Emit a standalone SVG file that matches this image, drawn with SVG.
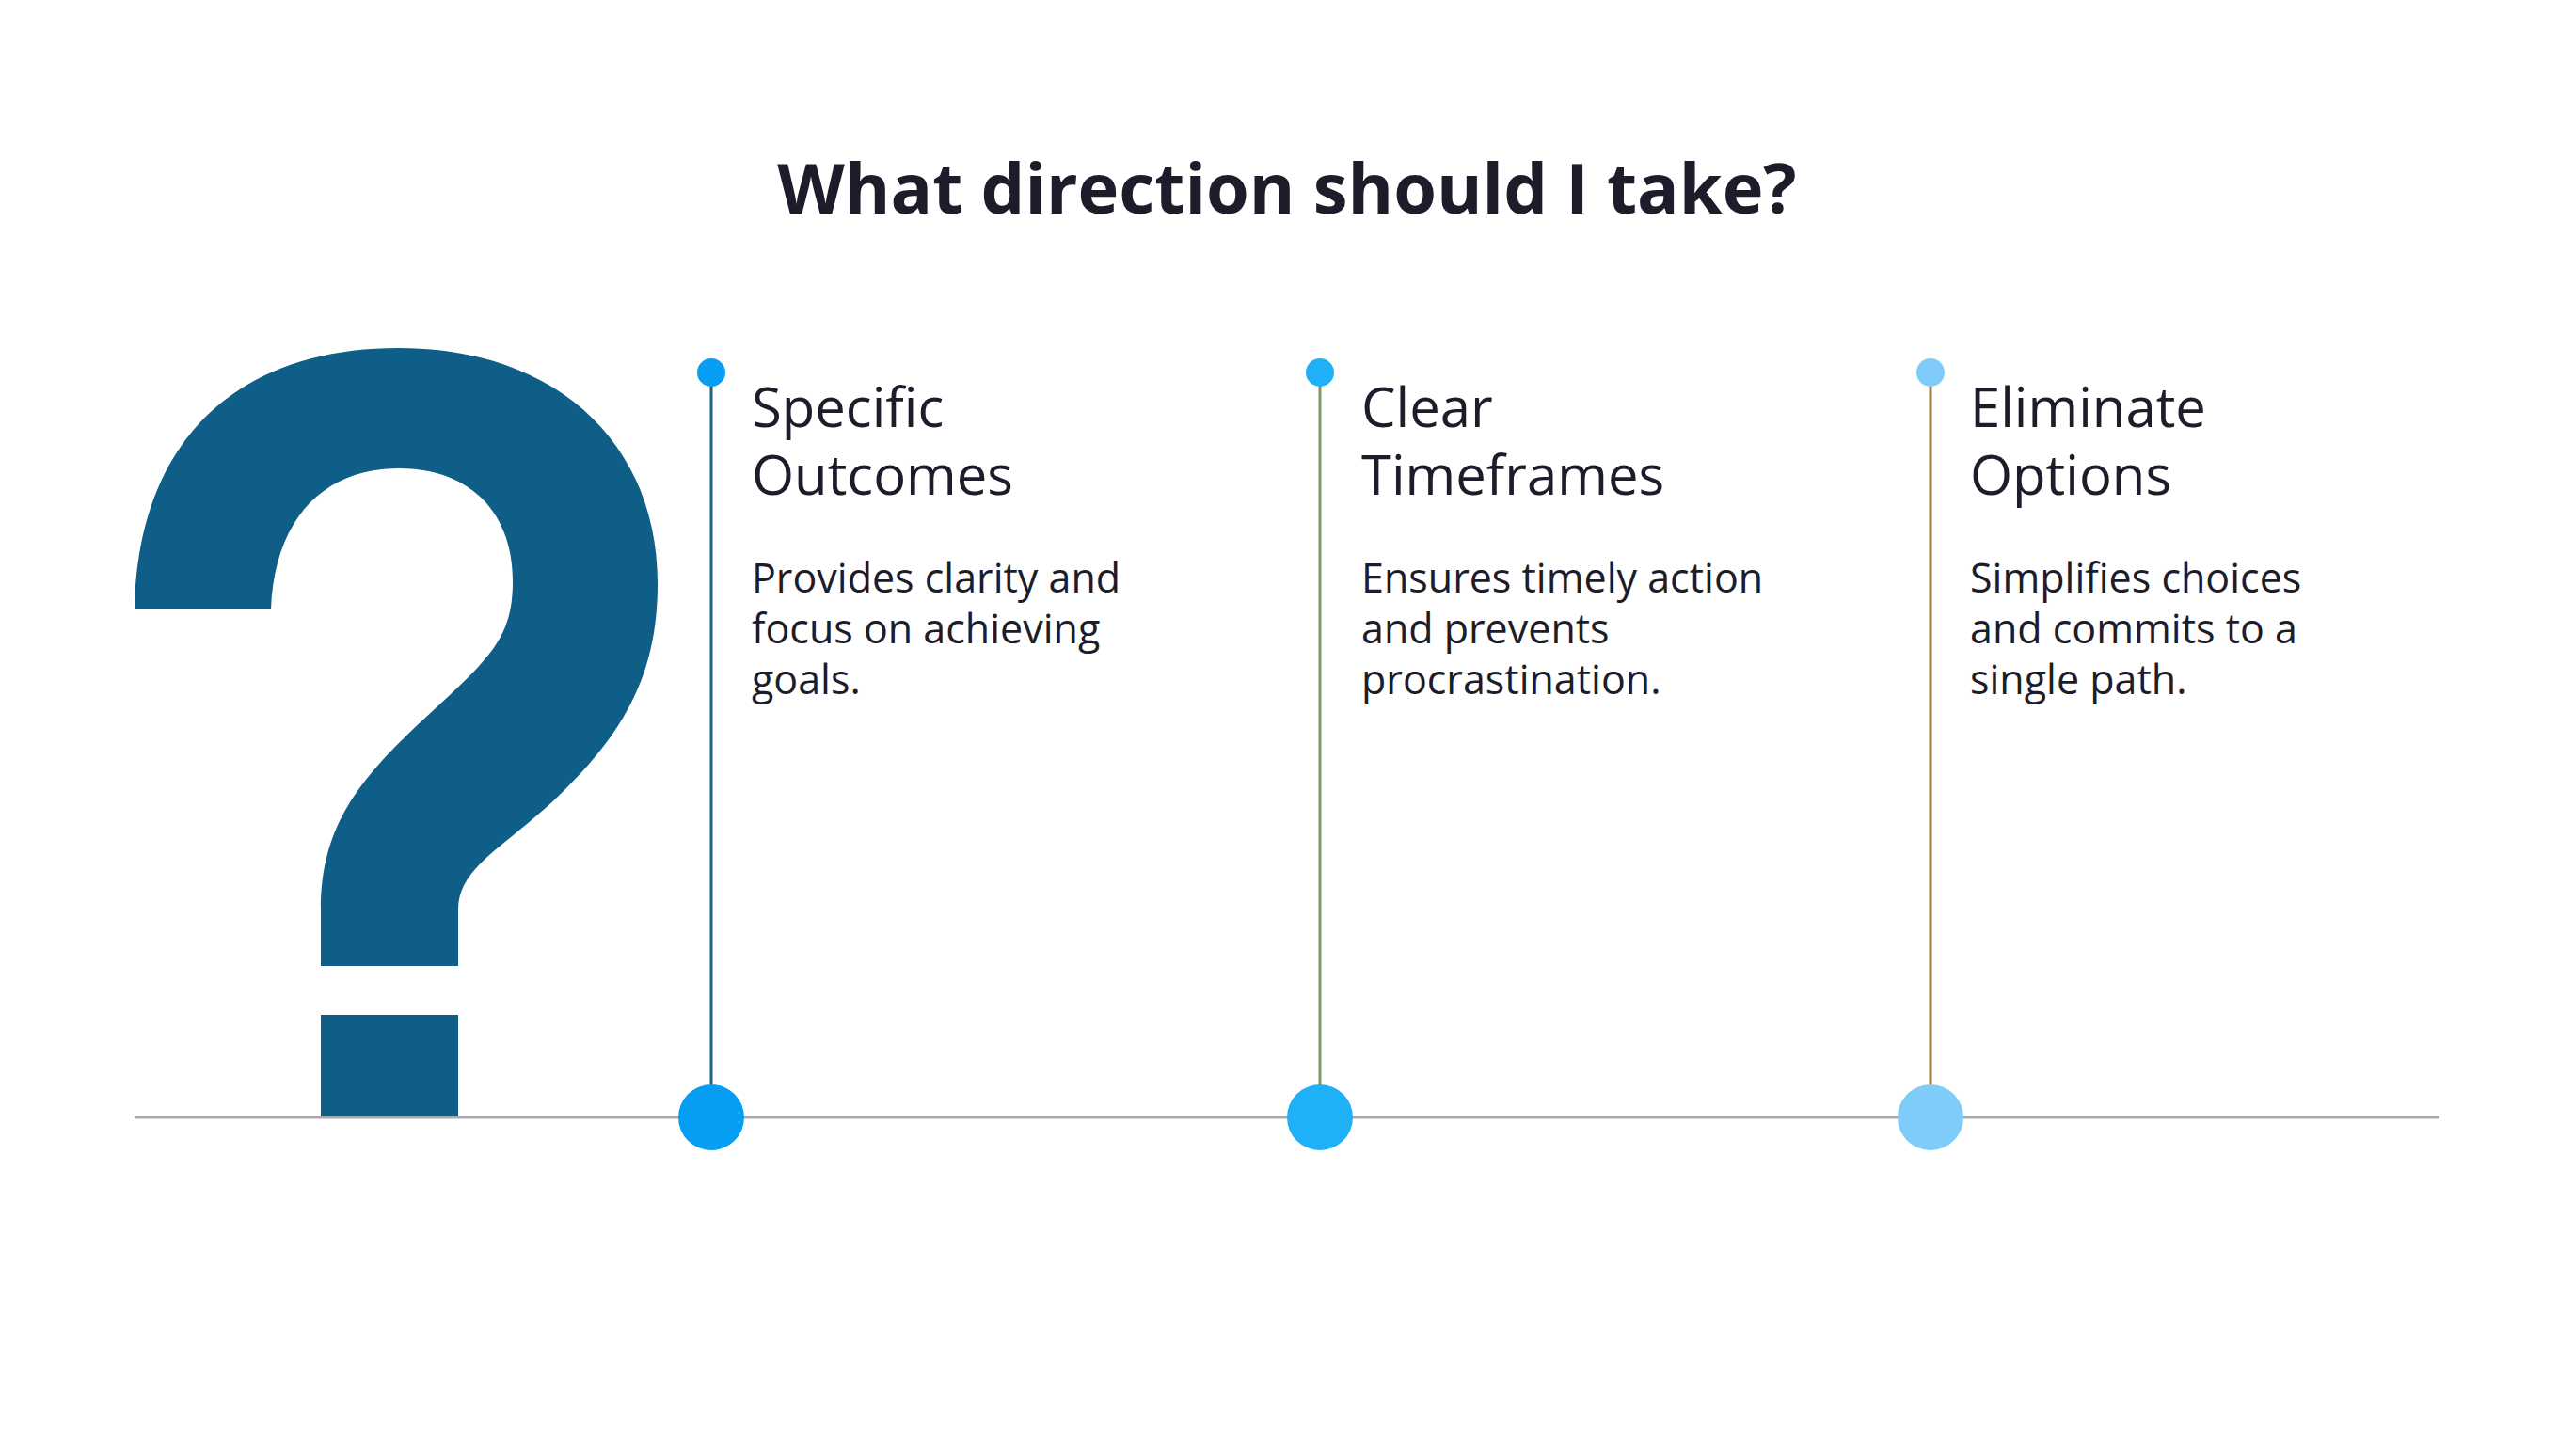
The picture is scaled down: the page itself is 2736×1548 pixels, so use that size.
<svg xmlns="http://www.w3.org/2000/svg" width="2736" height="1548" viewBox="0 0 2736 1548">
<style>
.h{font-family:"Open Sans","Noto Sans",sans-serif;font-size:58px;fill:#1c1c2a}
.b{font-family:"Open Sans","Noto Sans",sans-serif;font-size:43px;fill:#1c1c2a}
.t{font-family:"Open Sans","Noto Sans",sans-serif;font-size:74px;font-weight:bold;fill:#1c1c2a}
</style>
<rect width="2736" height="1548" fill="#fff"/>
<text class="t" x="1368" y="227" text-anchor="middle">What direction should I take?</text>
<g id="question">
<path fill="#0e5e87" d="M143,648 C146,470 250,370 424,370 C590,370 699,470 699,621 C699,720 660,780 600,840 C540,900 487,920 487,967 L487,1027 L341,1027 L341,967 C341,880 380,830 450,765 C520,700 545,680 545,618 C545,545 500,498 424,498 C345,498 292,550 288,648 Z"/>
<rect x="341" y="1079" width="146" height="109" fill="#0e5e87"/>
</g>
<g id="connectors">
<line x1="143" y1="1188" x2="2593" y2="1188" stroke="#aaa" stroke-width="3"/>
<line x1="756" y1="396" x2="756" y2="1188" stroke="#1f628c" stroke-width="3"/>
<line x1="1403" y1="396" x2="1403" y2="1188" stroke="#7a9a6a" stroke-width="3"/>
<line x1="2052" y1="396" x2="2052" y2="1188" stroke="#9a8040" stroke-width="3"/>
</g>
<g id="n1">
<circle cx="756" cy="396" r="15" fill="#069ef2"/><circle cx="756" cy="1188" r="35" fill="#069ef2"/>
<text class="h" x="799" y="454">Specific</text><text class="h" x="799" y="526">Outcomes</text>
<text class="b" x="799" y="630">Provides clarity and</text><text class="b" x="799" y="684">focus on achieving</text><text class="b" x="799" y="738">goals.</text>
</g>
<g id="n2">
<circle cx="1403" cy="396" r="15" fill="#1fb0f8"/><circle cx="1403" cy="1188" r="35" fill="#1fb0f8"/>
<text class="h" x="1447" y="454">Clear</text><text class="h" x="1447" y="526">Timeframes</text>
<text class="b" x="1447" y="630">Ensures timely action</text><text class="b" x="1447" y="684">and prevents</text><text class="b" x="1447" y="738">procrastination.</text>
</g>
<g id="n3">
<circle cx="2052" cy="396" r="15" fill="#7fccfb"/><circle cx="2052" cy="1188" r="35" fill="#7fccfb"/>
<text class="h" x="2094" y="454">Eliminate</text><text class="h" x="2094" y="526">Options</text>
<text class="b" x="2094" y="630">Simplifies choices</text><text class="b" x="2094" y="684">and commits to a</text><text class="b" x="2094" y="738">single path.</text>
</g>
</svg>
